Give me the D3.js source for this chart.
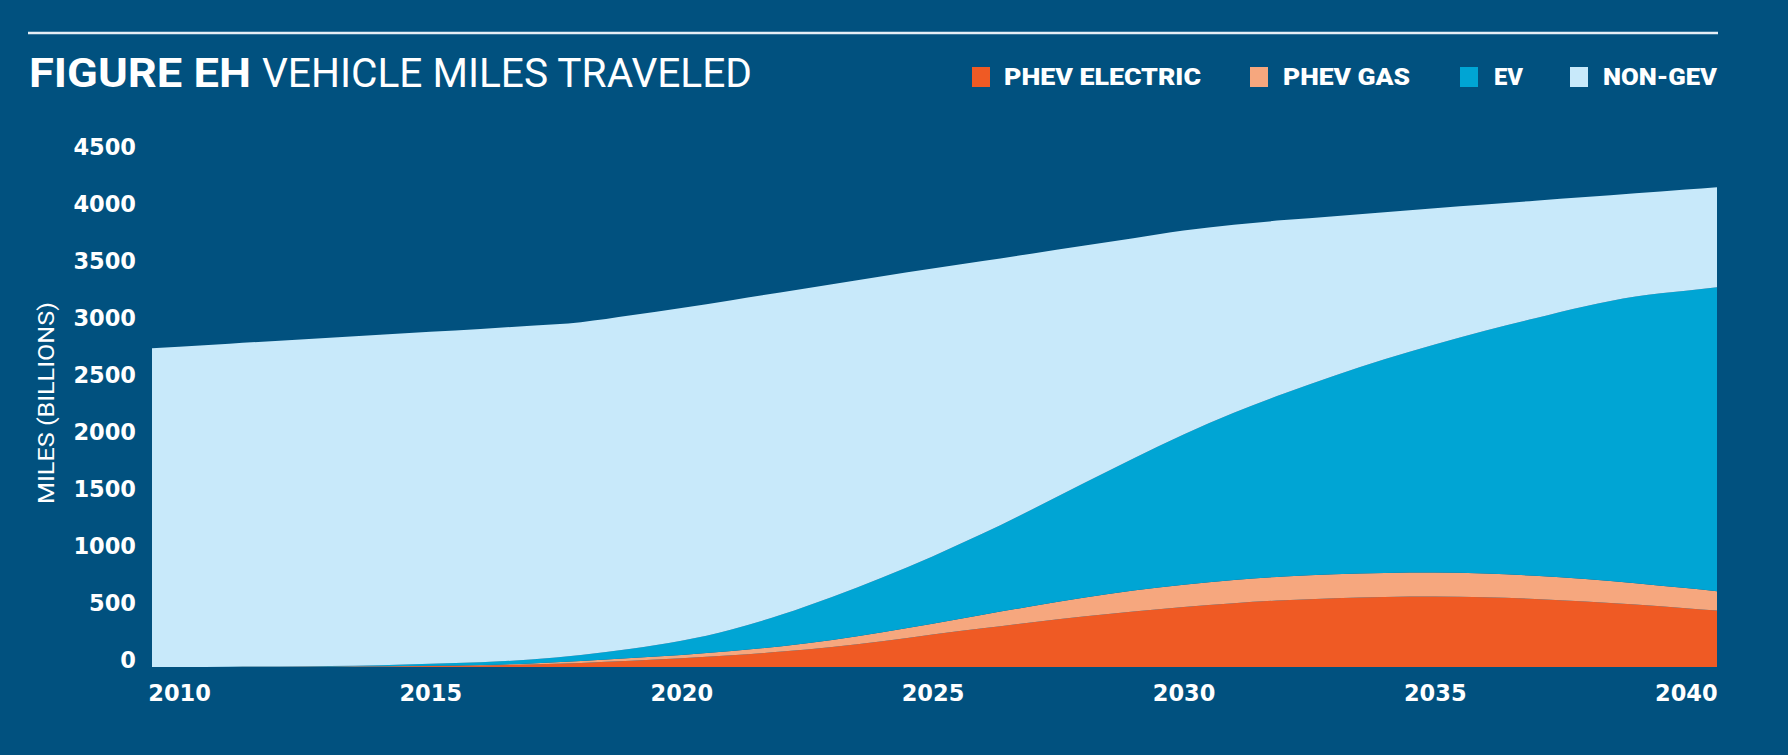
<!DOCTYPE html>
<html>
<head>
<meta charset="utf-8">
<script src="https://cdn.jsdelivr.net/npm/d3@7"></script>
<style>
  html, body { margin: 0; padding: 0; background: #01517f; overflow: hidden; }
  svg { display: block; }
</style>
</head>
<body>
<svg id="chart" width="1791" height="755"></svg>
<script>
// Vehicle miles traveled, billions of miles, by vehicle type
const years = d3.range(2010, 2041);

const phevElectric = [0, 1, 2, 3, 5, 8, 13, 22, 36, 54, 77, 103, 135, 175, 225, 285,
  340, 393, 442, 487, 527, 560, 586, 604, 615, 618, 612, 597, 575, 548, 515];

const phevGas = [0, 0, 1, 2, 2, 2, 4, 8, 16, 24, 28, 37, 48, 62, 80, 95,
  118, 142, 165, 183, 195, 203, 208, 210, 210, 210, 208, 203, 197, 187, 177];

const ev = [0, 1, 2, 4, 8, 18, 25, 35, 53, 82, 125, 190, 277, 378, 480, 590,
  712, 850, 1003, 1160, 1318, 1467, 1606, 1741, 1875, 2002, 2130, 2260, 2393, 2515, 2608];

const nonGev = [2810, 2834, 2857, 2879, 2899, 2912, 2924, 2928, 2920, 2925, 2920, 2888, 2828, 2743, 2643, 2525,
  2392, 2243, 2085, 1932, 1790, 1650, 1520, 1400, 1290, 1195, 1108, 1030, 957, 905, 888];

const seriesKeys = ["phevElectric", "phevGas", "ev", "nonGev"];
const seriesLabels = ["PHEV ELECTRIC", "PHEV GAS", "EV", "NON-GEV"];
const seriesColors = ["#ef5a24", "#f6a77e", "#00a5d4", "#c8e9fa"];

const yTicks = [0, 500, 1000, 1500, 2000, 2500, 3000, 3500, 4000, 4500];
const xTicks = [2010, 2015, 2020, 2025, 2030, 2035, 2040];

const titleBold = "FIGURE EH";
const titleRest = "VEHICLE MILES TRAVELED";
const yTitle = "MILES (BILLIONS)";

// ---------------------------------------------------------------
const svg = d3.select("#chart");
const W = 1791, H = 755;

svg.append("rect").attr("width", W).attr("height", H).attr("fill", "#01517f");
// thin white margin on the right side of the panel
svg.append("rect").attr("x", W - 3).attr("y", 0).attr("width", 3).attr("height", H).attr("fill", "#ffffff");

// header rule
svg.append("line")
  .attr("x1", 28).attr("x2", 1718).attr("y1", 33).attr("y2", 33)
  .attr("stroke", "#e6eef5").attr("stroke-width", 2.5);

// title
svg.append("text")
  .attr("x", 29).attr("y", 87)
  .attr("fill", "#ffffff")
  .attr("font-family", "Roboto, 'DejaVu Sans', sans-serif")
  .attr("font-weight", 700)
  .attr("font-size", 41)
  .attr("textLength", 222).attr("lengthAdjust", "spacingAndGlyphs")
  .text(titleBold);
svg.append("text")
  .attr("x", 262).attr("y", 87)
  .attr("fill", "#ffffff")
  .attr("font-family", "Roboto, 'DejaVu Sans', sans-serif")
  .attr("font-weight", 400)
  .attr("font-size", 41)
  .attr("textLength", 490).attr("lengthAdjust", "spacingAndGlyphs")
  .text(titleRest);

// legend
const legendItems = [
  { sx: 972, tx: 1004, tw: 197 },
  { sx: 1250, tx: 1283, tw: 127 },
  { sx: 1460, tx: 1494, tw: 29 },
  { sx: 1570, tx: 1603, tw: 114 }
];
const legend = svg.append("g");
legendItems.forEach((it, i) => {
  legend.append("rect")
    .attr("x", it.sx).attr("y", 67).attr("width", 18).attr("height", 20)
    .attr("fill", seriesColors[i]);
  legend.append("text")
    .attr("x", it.tx).attr("y", 85)
    .attr("fill", "#ffffff")
    .attr("font-family", "Roboto, 'DejaVu Sans', sans-serif")
    .attr("font-weight", 900)
    .attr("font-size", 24)
    .attr("textLength", it.tw).attr("lengthAdjust", "spacingAndGlyphs")
    .text(seriesLabels[i]);
});

// scales
const x = d3.scaleLinear().domain([2009.46, 2040.62]).range([152, 1717]);
const y = d3.scaleLinear().domain([0, 4500]).range([667, 154]);

// rows for stacking
const rows = years.map((yr, i) => ({
  year: yr,
  phevElectric: phevElectric[i],
  phevGas: phevGas[i],
  ev: ev[i],
  nonGev: nonGev[i]
}));

// the filled areas run out to both edges of the plot: continue each series
// along its trend from the nearest two years
function edgeRow(a, b, yr) {
  const t = (yr - a.year) / (a.year - b.year);
  const r = { year: yr };
  seriesKeys.forEach(k => { r[k] = Math.max(0, a[k] + (a[k] - b[k]) * t); });
  return r;
}
const n = rows.length;
const plotRows = [
  edgeRow(rows[0], rows[1], x.domain()[0]),
  ...rows,
  edgeRow(rows[n - 1], rows[n - 2], x.domain()[1])
];

const stacked = d3.stack().keys(seriesKeys)(plotRows);

const area = d3.area()
  .curve(d3.curveMonotoneX)
  .x(d => x(d.data.year))
  .y0(d => y(d[0]))
  .y1(d => y(d[1]));

svg.append("g")
  .selectAll("path")
  .data(stacked)
  .join("path")
  .attr("fill", (d, i) => seriesColors[i])
  .attr("d", area);

// y axis
const yAxis = svg.append("g")
  .attr("transform", "translate(136,0)")
  .call(d3.axisLeft(y).tickValues(yTicks).tickSize(0).tickPadding(0).tickFormat(d3.format("d")));
yAxis.select(".domain").remove();
yAxis.selectAll("text")
  .attr("dy", 0)
  .attr("x", 0)
  .attr("fill", "#ffffff")
  .attr("font-family", "'DejaVu Sans', sans-serif")
  .attr("font-weight", 700)
  .attr("font-size", 22.5);

// x axis
const xAxis = svg.append("g")
  .attr("transform", "translate(0,701)")
  .call(d3.axisBottom(x).tickValues(xTicks).tickSize(0).tickPadding(0).tickFormat(d3.format("d")));
xAxis.select(".domain").remove();
xAxis.selectAll("text")
  .attr("dy", 0)
  .attr("y", 0)
  .attr("fill", "#ffffff")
  .attr("font-family", "'DejaVu Sans', sans-serif")
  .attr("font-weight", 700)
  .attr("font-size", 22.5);

// y axis title
svg.append("text")
  .attr("transform", "translate(54,403) rotate(-90)")
  .attr("text-anchor", "middle")
  .attr("fill", "#ffffff")
  .attr("font-family", "Roboto, 'DejaVu Sans', sans-serif")
  .attr("font-weight", 400)
  .attr("font-size", 22)
  .attr("textLength", 202).attr("lengthAdjust", "spacingAndGlyphs")
  .text(yTitle);
</script>
</body>
</html>
